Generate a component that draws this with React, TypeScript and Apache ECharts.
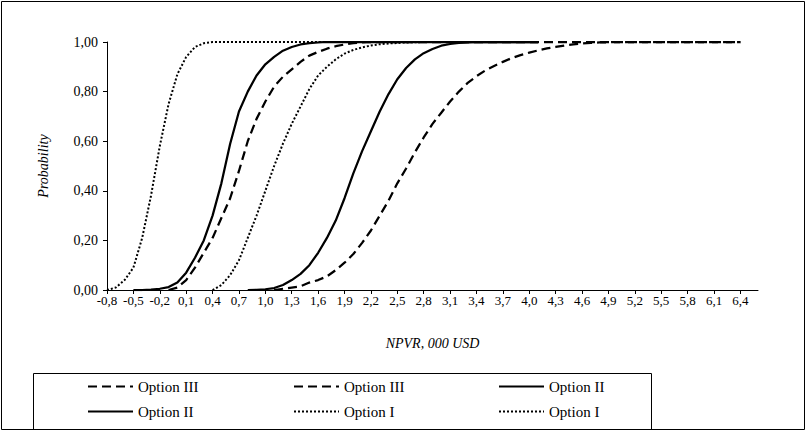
import React, { useEffect, useRef } from 'react';
import * as echarts from 'echarts';

// Category axis: NPVR, 000 USD (step 0,1; labelled every 0,3)
const categories = [
  '-0,8', '-0,7', '-0,6', '-0,5', '-0,4', '-0,3', '-0,2', '-0,1',
  '0,0', '0,1', '0,2', '0,3', '0,4', '0,5', '0,6', '0,7', '0,8', '0,9',
  '1,0', '1,1', '1,2', '1,3', '1,4', '1,5', '1,6', '1,7', '1,8', '1,9',
  '2,0', '2,1', '2,2', '2,3', '2,4', '2,5', '2,6', '2,7', '2,8', '2,9',
  '3,0', '3,1', '3,2', '3,3', '3,4', '3,5', '3,6', '3,7', '3,8', '3,9',
  '4,0', '4,1', '4,2', '4,3', '4,4', '4,5', '4,6', '4,7', '4,8', '4,9',
  '5,0', '5,1', '5,2', '5,3', '5,4', '5,5', '5,6', '5,7', '5,8', '5,9',
  '6,0', '6,1', '6,2', '6,3', '6,4', '6,5', '6,6',
];

const yTickValues = [0, 0.2, 0.4, 0.6, 0.8, 1.0];

// Option III (dashed), first curve, starts at -0,1
const optionIIIaStart = '-0,1';
const optionIIIa = [
  0.0, 0.01, 0.04, 0.09, 0.15, 0.21, 0.29, 0.37, 0.48, 0.6, 0.69, 0.76, 0.82, 0.86,
  0.89, 0.92, 0.945, 0.96, 0.973, 0.983, 0.99, 0.995, 0.998, 1.0, 1.0, 1.0, 1.0, 1.0,
  1.0, 1.0, 1.0, 1.0, 1.0, 1.0, 1.0, 1.0, 1.0, 1.0, 1.0, 1.0, 1.0, 1.0, 1.0, 1.0,
  1.0, 1.0, 1.0, 1.0, 1.0, 1.0, 1.0, 1.0, 1.0, 1.0, 1.0, 1.0, 1.0, 1.0, 1.0, 1.0,
  1.0, 1.0, 1.0, 1.0, 1.0, 1.0,
];

// Option III (dashed), second curve, starts at 1,1
const optionIIIbStart = '1,1';
const optionIIIb = [
  0.0, 0.005, 0.01, 0.015, 0.03, 0.04, 0.055, 0.08, 0.11, 0.145, 0.19, 0.24, 0.3, 0.36,
  0.43, 0.49, 0.555, 0.615, 0.67, 0.715, 0.76, 0.8, 0.835, 0.862, 0.885, 0.903, 0.92,
  0.935, 0.947, 0.957, 0.966, 0.974, 0.98, 0.986, 0.99, 0.994, 0.996, 0.998, 0.999,
  1.0, 1.0, 1.0, 1.0, 1.0, 1.0, 1.0, 1.0, 1.0, 1.0, 1.0, 1.0, 1.0, 1.0, 1.0,
];

// Option II (solid), first curve, starts at -0,5
const optionIIaStart = '-0,5';
const optionIIa = [
  0.0, 0.0, 0.002, 0.005, 0.012, 0.03, 0.07, 0.13, 0.2, 0.3, 0.43, 0.59, 0.72, 0.8,
  0.865, 0.91, 0.94, 0.965, 0.98, 0.99, 0.995, 0.998, 1.0, 1.0, 1.0, 1.0, 1.0, 1.0,
  1.0, 1.0, 1.0, 1.0, 1.0, 1.0, 1.0, 1.0, 1.0, 1.0, 1.0, 1.0, 1.0, 1.0, 1.0, 1.0,
  1.0, 1.0, 1.0,
];

// Option II (solid), second curve, starts at 0,8
const optionIIbStart = '0,8';
const optionIIb = [
  0.0, 0.001, 0.003, 0.008, 0.02, 0.04, 0.065, 0.1, 0.15, 0.21, 0.28, 0.37, 0.47, 0.56,
  0.64, 0.72, 0.79, 0.85, 0.895, 0.93, 0.955, 0.972, 0.985, 0.992, 0.996, 0.998, 1.0,
  1.0, 1.0, 1.0, 1.0, 1.0, 1.0, 1.0,
];

// Option I (dotted), first curve, starts at -0,8
const optionIaStart = '-0,8';
const optionIa = [
  0.0, 0.01, 0.04, 0.09, 0.21, 0.38, 0.58, 0.75, 0.87, 0.94, 0.98, 0.995, 1.0, 1.0,
  1.0, 1.0, 1.0, 1.0, 1.0, 1.0, 1.0, 1.0, 1.0, 1.0, 1.0, 1.0, 1.0, 1.0, 1.0, 1.0,
  1.0, 1.0, 1.0, 1.0, 1.0, 1.0, 1.0, 1.0,
];

// Option I (dotted), second curve, starts at 0,4
const optionIbStart = '0,4';
const optionIb = [
  0.0, 0.02, 0.06, 0.12, 0.21, 0.3, 0.4, 0.5, 0.59, 0.67, 0.74, 0.81, 0.865, 0.9,
  0.93, 0.953, 0.968, 0.978, 0.986, 0.991, 0.994, 0.996, 0.998, 0.999, 1.0, 1.0,
];

const seriesLabels: Record<string, string> = {
  IIIa: 'Option III',
  IIIb: 'Option III',
  IIa: 'Option II',
  IIb: 'Option II',
  Ia: 'Option I',
  Ib: 'Option I',
};

const FONT = 'Liberation Serif, Times New Roman, serif';

function align(start: string, values: number[]) {
  const i0 = categories.indexOf(start);
  return categories.map((_, i) =>
    i >= i0 && i - i0 < values.length ? values[i - i0] : null
  );
}

const DASH = [9, 5];
const DOT = [2, 2];

export default function App() {
  const ref = useRef<HTMLDivElement>(null);

  useEffect(() => {
    if (!ref.current) return;
    const chart = echarts.init(ref.current, undefined, { renderer: 'svg' });

    const mk = (name: string, start: string, vals: number[], type: any, width: number) => ({
      name,
      type: 'line',
      data: align(start, vals),
      symbol: 'none',
      showSymbol: false,
      smooth: false,
      connectNulls: false,
      lineStyle: { color: '#000', width, type },
      itemStyle: { color: '#000' },
      emphasis: { disabled: true },
    });

    const legendLayout = [
      { name: 'IIIa', left: 87, top: 379 },
      { name: 'IIIb', left: 293, top: 379 },
      { name: 'IIa', left: 498, top: 379 },
      { name: 'IIb', left: 87, top: 404 },
      { name: 'Ia', left: 293, top: 404 },
      { name: 'Ib', left: 498, top: 404 },
    ];

    chart.setOption({
      animation: false,
      backgroundColor: '#fff',
      textStyle: { fontFamily: FONT },
      grid: { left: 107, right: 49, top: 42, bottom: 141, containLabel: false },
      xAxis: {
        type: 'category',
        data: categories,
        boundaryGap: false,
        name: 'NPVR, 000 USD',
        nameLocation: 'middle',
        nameGap: 46,
        nameTextStyle: { fontFamily: FONT, fontStyle: 'italic', fontSize: 14, color: '#000' },
        axisLine: { show: true, lineStyle: { color: '#000', width: 1 } },
        axisTick: { show: true, interval: 2, length: 4, lineStyle: { color: '#000' } },
        axisLabel: { interval: 2, fontFamily: FONT, fontSize: 13, color: '#000', margin: 4 },
        splitLine: { show: false },
      },
      yAxis: {
        type: 'value',
        min: 0,
        max: 1,
        interval: 0.2,
        name: 'Probability',
        nameLocation: 'middle',
        nameGap: 57,
        nameTextStyle: { fontFamily: FONT, fontStyle: 'italic', fontSize: 14, color: '#000' },
        axisLine: { show: true, lineStyle: { color: '#000', width: 1 } },
        axisTick: { show: true, length: 4, lineStyle: { color: '#000' } },
        axisLabel: {
          fontFamily: FONT,
          fontSize: 14,
          color: '#000',
          margin: 9,
          formatter: (v: number) =>
            yTickValues.some((t) => Math.abs(t - v) < 1e-9) ? v.toFixed(2).replace('.', ',') : '',
        },
        splitLine: { show: false },
      },
      legend: legendLayout.map((l) => ({
        data: [l.name],
        left: l.left,
        top: l.top,
        padding: 0,
        orient: 'horizontal',
        itemWidth: 45,
        itemHeight: 14,
        selectedMode: false,
        itemStyle: { opacity: 0, borderWidth: 0 },
        textStyle: { fontFamily: FONT, fontSize: 15, color: '#000' },
        formatter: (n: string) => seriesLabels[n],
      })),
      graphic: [
        {
          type: 'rect',
          shape: { x: 1.5, y: 1.5, width: 803, height: 428 },
          style: { fill: 'none', stroke: '#000', lineWidth: 1 },
          silent: true,
        },
        {
          type: 'rect',
          shape: { x: 33.5, y: 373.5, width: 618, height: 56 },
          style: { fill: 'none', stroke: '#000', lineWidth: 1 },
          silent: true,
        },
      ],
      series: [
        mk('IIIa', optionIIIaStart, optionIIIa, DASH, 2.25),
        mk('IIIb', optionIIIbStart, optionIIIb, DASH, 2.25),
        mk('IIa', optionIIaStart, optionIIa, 'solid', 2.25),
        mk('IIb', optionIIbStart, optionIIb, 'solid', 2.25),
        mk('Ia', optionIaStart, optionIa, DOT, 2),
        mk('Ib', optionIbStart, optionIb, DOT, 2),
      ],
    });

    return () => chart.dispose();
  }, []);

  return (
    <div
      ref={ref}
      style={{ position: 'fixed', left: 0, top: 0, width: 807, height: 431, background: '#fff' }}
    />
  );
}
